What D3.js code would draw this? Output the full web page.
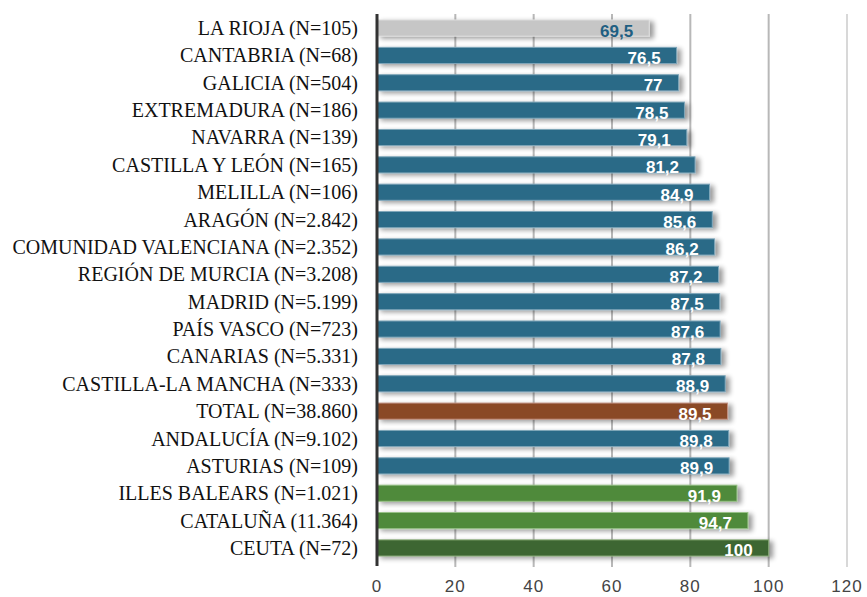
<!DOCTYPE html>
<html><head><meta charset="utf-8">
<script src="https://cdn.jsdelivr.net/npm/d3@7"></script>
<style>body{margin:0;background:#fff}svg{display:block}</style>
</head><body><svg id="c" width="867" height="597"></svg>
<script>
const categories = ["LA RIOJA (N=105)","CANTABRIA (N=68)","GALICIA (N=504)","EXTREMADURA (N=186)","NAVARRA (N=139)","CASTILLA Y LEÓN (N=165)","MELILLA (N=106)","ARAGÓN (N=2.842)","COMUNIDAD VALENCIANA (N=2.352)","REGIÓN DE MURCIA (N=3.208)","MADRID (N=5.199)","PAÍS VASCO (N=723)","CANARIAS (N=5.331)","CASTILLA-LA MANCHA (N=333)","TOTAL (N=38.860)","ANDALUCÍA (N=9.102)","ASTURIAS (N=109)","ILLES BALEARS (N=1.021)","CATALUÑA (11.364)","CEUTA (N=72)"];
const values = [69.5,76.5,77,78.5,79.1,81.2,84.9,85.6,86.2,87.2,87.5,87.6,87.8,88.9,89.5,89.8,89.9,91.9,94.7,100];
const groups = ["low","mid","mid","mid","mid","mid","mid","mid","mid","mid","mid","mid","mid","mid","total","mid","mid","high","high","top"];
const ticks = [0,20,40,60,80,100,120];

const colors = {low:"#c6c6c6",mid:"#2b6a87",total:"#8a4828",high:"#4f8a3a",top:"#3d6630"};
const strokes = {low:"#dedede",mid:"#7fa6b9",total:"#c09080",high:"#98c088",top:"#88a878"};

const svg = d3.select("#c");
const x = d3.scaleLinear().domain([0,120]).range([377,847]);
const y = d3.scaleBand().domain(categories).range([14.5,561.5]).paddingInner(0.41).paddingOuter(0.2);

const defs = svg.append("defs");
const f = defs.append("filter").attr("id","sh").attr("x","-10%").attr("y","-50%").attr("width","130%").attr("height","200%");
f.append("feGaussianBlur").attr("in","SourceAlpha").attr("stdDeviation",2.5);
f.append("feOffset").attr("dx",4).attr("dy",2).attr("result","o");
f.append("feComponentTransfer").append("feFuncA").attr("type","linear").attr("slope",0.4);
const m = f.append("feMerge"); m.append("feMergeNode"); m.append("feMergeNode").attr("in","SourceGraphic");

// gridlines
svg.append("g").selectAll("line").data(ticks.slice(1)).join("line")
  .attr("x1",d=>x(d)).attr("x2",d=>x(d)).attr("y1",14).attr("y2",567)
  .attr("stroke",d=>d===120?"#d8d8d8":"#b8b8b8").attr("stroke-width",2);

// bars
svg.append("g").selectAll("rect").data(values).join("rect")
  .attr("x",x(0)).attr("y",(d,i)=>y(categories[i]))
  .attr("width",d=>x(d)-x(0)).attr("height",y.bandwidth())
  .attr("fill",(d,i)=>colors[groups[i]]).attr("stroke",(d,i)=>strokes[groups[i]]).attr("stroke-width",1)
  .attr("filter","url(#sh)");

// axis line
svg.append("line").attr("x1",x(0)).attr("x2",x(0)).attr("y1",14).attr("y2",566).attr("stroke","#333").attr("stroke-width",3);

// value labels
svg.append("g").selectAll("text").data(values).join("text")
  .attr("x",d=>x(d)-16).attr("y",(d,i)=>y(categories[i])+y.bandwidth()/2+8.5)
  .attr("text-anchor","end").attr("font-family","Liberation Sans, Arial, sans-serif")
  .attr("font-weight","bold").attr("font-size",17)
  .attr("fill",(d,i)=>groups[i]==="low"?"#1f5f82":"#fff")
  .text(d=>String(d).replace(".",","));

// category labels
svg.append("g").selectAll("text").data(categories).join("text")
  .attr("x",358).attr("y",d=>y(d)+y.bandwidth()/2+7)
  .attr("text-anchor","end").attr("font-family","Liberation Serif, serif")
  .attr("font-size",20).attr("fill","#111").text(d=>d);

// x tick labels
svg.append("g").selectAll("text").data(ticks).join("text")
  .attr("x",d=>x(d)).attr("y",592).attr("text-anchor","middle")
  .attr("font-family","Liberation Sans, Arial, sans-serif").attr("font-size",17)
  .attr("fill","#444").attr("letter-spacing",1).text(d=>d);
</script></body></html>
